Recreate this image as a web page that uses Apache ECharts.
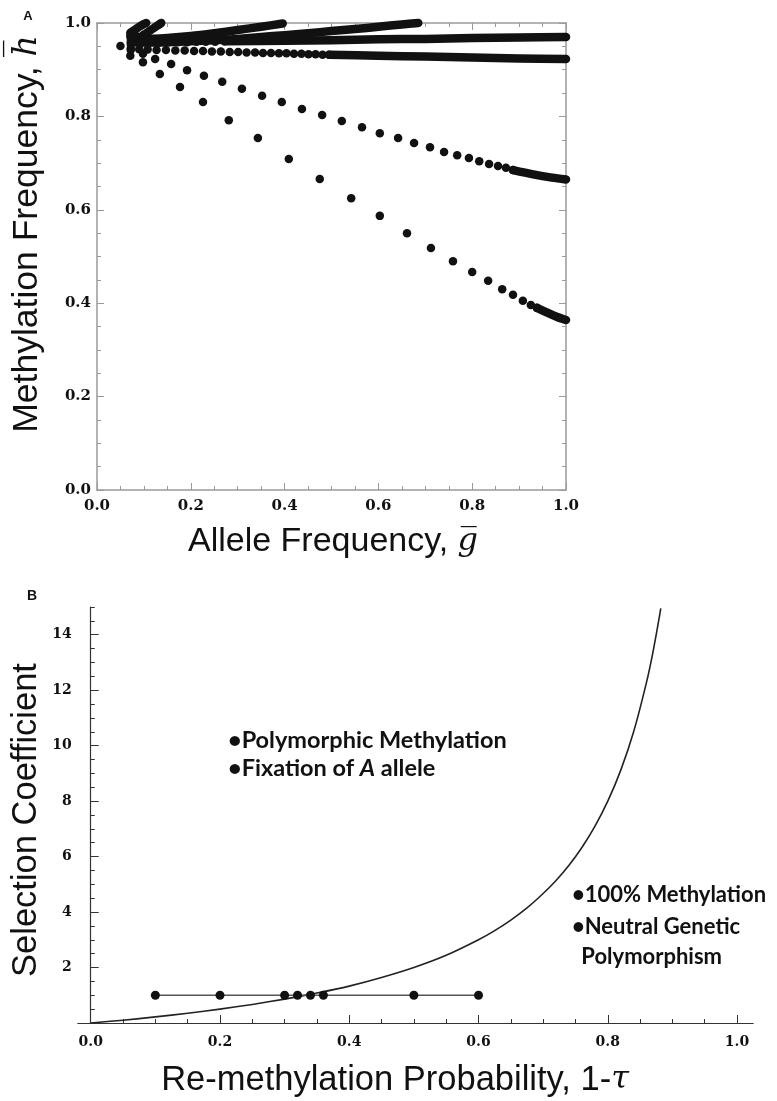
<!DOCTYPE html>
<html>
<head>
<meta charset="utf-8">
<script src="https://cdn.jsdelivr.net/npm/echarts@6/dist/echarts.min.js"></script>
<style>
html,body{margin:0;padding:0;background:#fff;}
#chart{width:777px;height:1101px;}
</style>
</head>
<body>
<div id="chart"></div>
<script>
// ---------- Panel A data: [allele frequency g, methylation frequency h] ----------
const seriesA1Dots = [[0.05,0.951],[0.071,0.930],[0.098,0.916],[0.134,0.891],[0.177,0.863],[0.226,0.831],[0.281,0.792],[0.343,0.754],[0.409,0.709],[0.475,0.666],[0.542,0.625],[0.603,0.587],[0.661,0.550],[0.712,0.518],[0.759,0.490],[0.800,0.467],[0.834,0.448],[0.864,0.430],[0.887,0.418],[0.908,0.405],[0.925,0.396],[0.938,0.390]];
const seriesA1Dense = [[0.938,0.390],[0.96,0.380],[0.98,0.371],[1.0,0.364]];

const seriesA2Dots = [[0.072,0.942],[0.098,0.934],[0.124,0.923],[0.158,0.912],[0.192,0.899],[0.228,0.887],[0.267,0.874],[0.309,0.859],[0.352,0.844],[0.394,0.831],[0.437,0.816],[0.480,0.803],[0.522,0.790],[0.565,0.777],[0.603,0.764],[0.642,0.754],[0.676,0.743],[0.710,0.734],[0.740,0.724],[0.768,0.717],[0.793,0.711],[0.815,0.704],[0.836,0.698],[0.855,0.694],[0.872,0.690],[0.887,0.685]];
const seriesA2Dense = [[0.887,0.685],[0.93,0.676],[0.97,0.669],[1.0,0.665]];

const seriesA3Dots = [[0.072,0.946],[0.09,0.944],[0.108,0.943],[0.127,0.942],[0.147,0.942],[0.167,0.941],[0.187,0.941],[0.207,0.940],[0.226,0.940],[0.245,0.939],[0.264,0.939],[0.283,0.938],[0.301,0.938],[0.319,0.937],[0.337,0.937],[0.354,0.936],[0.371,0.936],[0.388,0.935],[0.404,0.935],[0.42,0.934],[0.436,0.934],[0.451,0.933],[0.466,0.933],[0.481,0.932],[0.495,0.932]];
const seriesA3Dense = [[0.495,0.932],[0.6,0.930],[0.7,0.928],[0.8,0.926],[0.9,0.924],[1.0,0.923]];

const seriesA4Dots = [[0.072,0.955],[0.092,0.957],[0.112,0.958],[0.132,0.958],[0.152,0.959],[0.172,0.959],[0.192,0.959],[0.212,0.960],[0.232,0.960],[0.252,0.960],[0.272,0.961]];
const seriesA4Dense = [[0.272,0.961],[0.4,0.962],[0.5,0.963],[0.6,0.965],[0.7,0.966],[0.8,0.968],[0.9,0.969],[1.0,0.970]];

const seriesA5Dense = [[0.072,0.960],[0.1,0.958],[0.15,0.959],[0.2,0.961],[0.25,0.963],[0.3,0.966],[0.35,0.970],[0.4,0.974],[0.45,0.978],[0.5,0.983],[0.55,0.987],[0.6,0.992],[0.65,0.997],[0.685,1.0]];
const seriesA6Dense = [[0.072,0.967],[0.1,0.966],[0.15,0.968],[0.2,0.972],[0.25,0.978],[0.3,0.985],[0.35,0.992],[0.396,0.999]];
const seriesA7Dense = [[0.071,0.979],[0.08,0.985],[0.09,0.992],[0.1,0.998],[0.105,1.0]];
const seriesA8Dense = [[0.071,0.972],[0.092,0.970],[0.1,0.975],[0.115,0.985],[0.13,0.995],[0.137,1.0]];

const ticksA = [0, 0.2, 0.4, 0.6, 0.8, 1.0];

// ---------- Panel B data ----------
const curveX = [0, 0.05, 0.1, 0.15, 0.2, 0.25, 0.3, 0.35, 0.4, 0.45, 0.5, 0.55, 0.6, 0.625, 0.65, 0.675, 0.7, 0.72, 0.74, 0.76, 0.78, 0.8, 0.82, 0.84, 0.86, 0.87, 0.88, 0.882];
const curveY = [0, 0.1, 0.22, 0.35, 0.5, 0.67, 0.86, 1.08, 1.33, 1.64, 2.0, 2.44, 3.0, 3.33, 3.71, 4.15, 4.67, 5.14, 5.69, 6.33, 7.09, 8.0, 9.11, 10.5, 12.29, 13.38, 14.67, 14.95];
const pointsX = [0.1, 0.2, 0.3, 0.32, 0.34, 0.36, 0.5, 0.6];
const pointsY = [1, 1, 1, 1, 1, 1, 1, 1];
const ticksBx = [0, 0.2, 0.4, 0.6, 0.8, 1.0];
const minorBx = [0.05,0.1,0.15,0.25,0.3,0.35,0.45,0.5,0.55,0.65,0.7,0.75,0.85,0.9,0.95];
const ticksBy = [2, 4, 6, 8, 10, 12, 14];
const minorBy = [0.5,1,1.5,2.5,3,3.5,4.5,5,5.5,6.5,7,7.5,8.5,9,9.5,10.5,11,11.5,12.5,13,13.5,14.5,15];

const annotationsLeft = ['•Polymorphic Methylation', '•Fixation of {i|A} allele'];
const annotationsRight = ['•100% Methylation', '•Neutral Genetic', ' Polymorphism'];

// ---------- chart ----------
const chart = echarts.init(document.getElementById('chart'), null, {renderer: 'canvas'});
const tickFont = {fontFamily: 'DejaVu Serif', fontWeight: 'bold', color: '#111'};
const frameGray = '#9a9a9a';
const axisDark = '#333';
const toPairs = (xs, ys) => xs.map((x, i) => [x, ys[i]]);

function frameAxis(pos, showLabel) {
  return {
    gridIndex: 0, type: 'value', min: 0, max: 1, interval: 0.2, position: pos,
    axisLine: {onZero: false, lineStyle: {color: frameGray, width: 1.5}},
    axisTick: {inside: true, length: 7, lineStyle: {color: frameGray, width: 1}},
    minorTick: {show: true, splitNumber: 4, length: 4, lineStyle: {color: frameGray, width: 1}},
    splitLine: {show: false},
    axisLabel: Object.assign({show: showLabel, fontSize: 15, margin: (pos === 'bottom' ? 9 : 6),
      formatter: v => v.toFixed(1)}, tickFont)
  };
}

function dots(data) {
  return {type: 'scatter', xAxisIndex: 0, yAxisIndex: 0, data: data, symbol: 'circle', symbolSize: 8.5,
    itemStyle: {color: '#111', opacity: 1}, clip: false, silent: true, z: 3};
}
function dense(data) {
  return {type: 'line', xAxisIndex: 0, yAxisIndex: 0, data: data, showSymbol: false, smooth: 0.3,
    lineStyle: {color: '#111', width: 8.5, cap: 'round', join: 'round', opacity: 1}, clip: false, silent: true, z: 3};
}

const option = {
  animation: false,
  backgroundColor: '#fff',
  grid: [
    {left: 97, top: 23, width: 469, height: 467},
    {left: 77.8, top: 607, width: 675.4, height: 416}
  ],
  xAxis: [
    frameAxis('bottom', true),
    frameAxis('top', false),
    {
      gridIndex: 1, type: 'value', min: -0.02, max: 1.025, position: 'bottom',
      axisLine: {onZero: true, lineStyle: {color: axisDark, width: 1.2}},
      axisTick: {inside: true, length: 8, customValues: ticksBx, lineStyle: {color: axisDark}},
      splitLine: {show: false},
      axisLabel: Object.assign({fontSize: 14, margin: 12, customValues: ticksBx, formatter: v => v.toFixed(1)}, tickFont)
    },
    {
      gridIndex: 1, type: 'value', min: -0.02, max: 1.025, position: 'bottom',
      axisLine: {show: false},
      axisTick: {inside: true, length: 4, customValues: minorBx, lineStyle: {color: axisDark}},
      splitLine: {show: false},
      axisLabel: {show: false}
    }
  ],
  yAxis: [
    frameAxis('left', true),
    frameAxis('right', false),
    {
      gridIndex: 1, type: 'value', min: 0, max: 15, position: 'left',
      axisLine: {onZero: true, lineStyle: {color: axisDark, width: 1.2}},
      axisTick: {inside: true, length: 8, customValues: ticksBy, lineStyle: {color: axisDark}},
      splitLine: {show: false},
      axisLabel: Object.assign({fontSize: 14, margin: 6, customValues: ticksBy, formatter: v => String(v)}, tickFont)
    },
    {
      gridIndex: 1, type: 'value', min: 0, max: 15, position: 'left',
      axisLine: {onZero: true, show: false},
      axisTick: {inside: true, length: 4, customValues: minorBy, lineStyle: {color: axisDark}},
      splitLine: {show: false},
      axisLabel: {show: false}
    }
  ],
  series: [
    dense(seriesA1Dense), dots(seriesA1Dots),
    dense(seriesA2Dense), dots(seriesA2Dots),
    dense(seriesA3Dense), dots(seriesA3Dots),
    dense(seriesA4Dense), dots(seriesA4Dots),
    dense(seriesA5Dense), dense(seriesA6Dense), dense(seriesA7Dense), dense(seriesA8Dense),
    {
      type: 'line', xAxisIndex: 2, yAxisIndex: 2, data: toPairs(curveX, curveY), showSymbol: false,
      smooth: 0.2, lineStyle: {color: '#222', width: 1.6, join: 'round'}, silent: true, z: 2
    },
    {
      type: 'line', xAxisIndex: 2, yAxisIndex: 2, data: toPairs(pointsX, pointsY), symbol: 'circle',
      symbolSize: 9, showSymbol: true, itemStyle: {color: '#111', opacity: 1},
      lineStyle: {color: '#555', width: 1.6}, silent: true, z: 3
    }
  ],
  graphic: [
    {type: 'text', x: 28, y: 16, style: {text: 'A', font: 'bold 13px "Liberation Sans"', fill: '#111', textAlign: 'center', textVerticalAlign: 'middle'}},
    {type: 'text', x: 32, y: 596, style: {text: 'B', font: 'bold 14px "Liberation Sans"', fill: '#111', textAlign: 'center', textVerticalAlign: 'middle'}},
    {type: 'text', x: 27, y: 234, rotation: Math.PI / 2,
      style: {text: 'Methylation Frequency, {v|h\u0305}', font: '35.5px "Liberation Sans"', fill: '#111', textAlign: 'center', textVerticalAlign: 'middle',
        rich: {v: {fontFamily: 'DejaVu Serif', fontStyle: 'italic', fontSize: 33, fill: '#111'}}}},
    {type: 'text', x: 333, y: 542,
      style: {text: 'Allele Frequency, {v|g\u0305}', font: '34px "Liberation Sans"', fill: '#111', textAlign: 'center', textVerticalAlign: 'middle',
        rich: {v: {fontFamily: 'DejaVu Serif', fontStyle: 'italic', fontSize: 32, fill: '#111'}}}},
    {type: 'text', x: 26, y: 820, rotation: Math.PI / 2,
      style: {text: 'Selection Coefficient', font: '34.5px "Liberation Sans"', fill: '#111', textAlign: 'center', textVerticalAlign: 'middle'}},
    {type: 'text', x: 395, y: 1080,
      style: {text: 'Re-methylation Probability, 1-{v|τ}', font: '34.5px "Liberation Sans"', fill: '#111', textAlign: 'center', textVerticalAlign: 'middle',
        rich: {v: {fontFamily: 'DejaVu Serif', fontStyle: 'italic', fontSize: 32, fill: '#111'}}}},
    {type: 'text', x: 228, y: 740,
      style: {text: annotationsLeft[0], font: 'bold 23.5px Lato', fill: '#111', textAlign: 'left', textVerticalAlign: 'middle'}},
    {type: 'text', x: 228, y: 768,
      style: {text: annotationsLeft[1], font: 'bold 23.5px Lato', fill: '#111', textAlign: 'left', textVerticalAlign: 'middle',
        rich: {i: {fontFamily: 'Lato', fontStyle: 'italic', fontWeight: 'bold', fontSize: 23.5, fill: '#111'}}}},
    {type: 'text', x: 572, y: 895,
      style: {text: annotationsRight[0], font: 'bold 22px Lato', fill: '#111', textAlign: 'left', textVerticalAlign: 'middle'}},
    {type: 'text', x: 572, y: 927,
      style: {text: annotationsRight[1], font: 'bold 22px Lato', fill: '#111', textAlign: 'left', textVerticalAlign: 'middle'}},
    {type: 'text', x: 576, y: 957,
      style: {text: annotationsRight[2], font: 'bold 22px Lato', fill: '#111', textAlign: 'left', textVerticalAlign: 'middle'}}
  ]
};
chart.setOption(option);
</script>
</body>
</html>
